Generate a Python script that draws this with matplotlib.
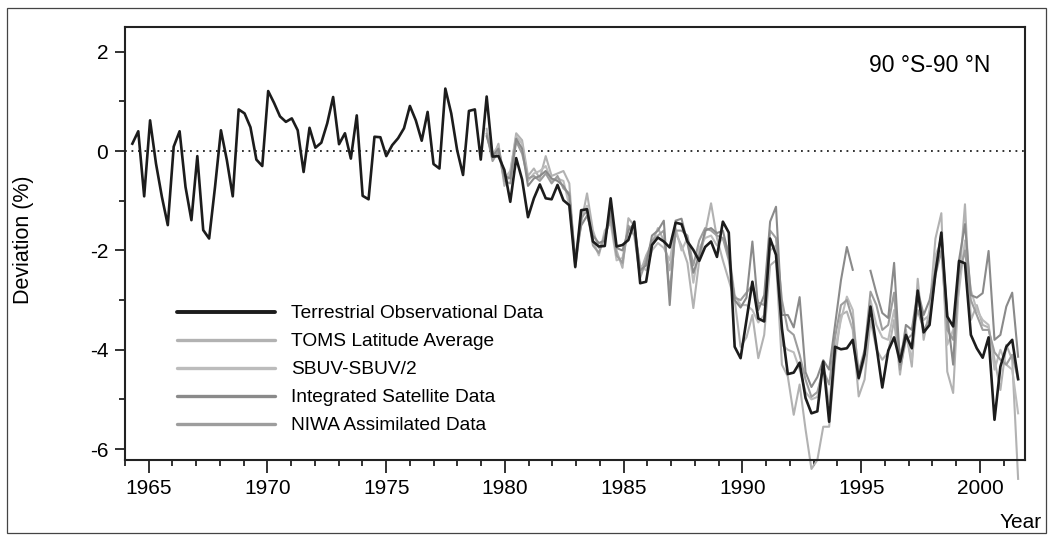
import numpy as np
import matplotlib.pyplot as plt
from matplotlib.lines import Line2D
from matplotlib.patches import Rectangle

plt.rcParams['font.family'] = ['Liberation Sans', 'DejaVu Sans']
plt.rcParams['axes.unicode_minus'] = False

# quarterly deviations (%)
terrestrial = [
    0.15, 0.40, -0.91, 0.62, -0.25, -0.92, -1.49, 0.09, 0.40, -0.72,
    -1.39, -0.10, -1.59, -1.76, -0.72, 0.42, -0.18, -0.91, 0.84, 0.76,
    0.48, -0.17, -0.30, 1.21, 0.97, 0.70, 0.59, 0.66, 0.42, -0.42,
    0.47, 0.07, 0.17, 0.56, 1.09, 0.14, 0.36, -0.15, 0.72, -0.90,
    -0.97, 0.29, 0.28, -0.10, 0.12, 0.26, 0.46, 0.91, 0.62, 0.21,
    0.79, -0.26, -0.35, 1.26, 0.76, 0.02, -0.48, 0.81, 0.84, -0.17,
    1.10, -0.11, -0.10, -0.38, -1.02, -0.14, -0.57, -1.33, -0.95, -0.67,
    -0.95, -0.97, -0.68, -0.99, -1.09, -2.33, -1.19, -1.17, -1.82, -1.92,
    -1.91, -0.95, -1.92, -1.89, -1.79, -1.42, -2.66, -2.63, -1.89, -1.74,
    -1.82, -1.94, -1.44, -1.47, -1.82, -1.99, -2.21, -1.93, -1.82, -2.13,
    -1.42, -1.64, -3.94, -4.17, -3.40, -2.63, -3.37, -3.43, -1.76, -2.09,
    -3.57, -4.49, -4.46, -4.26, -4.97, -5.28, -5.24, -4.24, -5.45, -3.94,
    -3.99, -3.97, -3.80, -4.57, -4.09, -3.13, -3.92, -4.76, -4.02, -3.75,
    -4.24, -3.70, -3.97, -2.81, -3.65, -3.50, -2.46, -1.64, -3.33, -3.53,
    -2.21, -2.26, -3.70, -3.97, -4.16, -3.75, -5.41, -4.34, -3.94, -3.80,
    -4.59,
]
# satellite / assimilated series start at the 61st quarter (1979)
toms = [
    0.45, -0.15, 0.15, -0.70, -0.45, 0.36, 0.22, -0.50, -0.35, -0.55,
    -0.10, -0.50, -0.45, -0.40, -0.65, -2.35, -1.45, -0.85, -1.60, -1.95,
    -1.75, -1.30, -2.00, -2.35, -1.35, -1.50, -2.45, -2.10, -1.85, -1.55,
    -1.80, -2.40, -1.65, -1.90, -2.25, -3.16, -2.20, -1.65, -1.05, -1.75,
    -2.20, -2.60, -3.00, -3.94, -3.75, -3.30, -4.17, -3.70, -2.30, -2.20,
    -4.30, -4.54, -5.31, -4.70, -5.60, -6.40, -6.22, -5.55, -5.55, -4.20,
    -3.30, -3.23, -3.60, -4.94, -4.60, -3.40, -3.99, -4.20, -4.05, -3.40,
    -4.50, -3.60, -4.34, -2.57, -3.80, -3.20, -1.76, -1.25, -4.44, -4.87,
    -2.60, -1.07, -3.40, -3.10, -3.50, -3.55, -4.20, -4.81, -3.90, -4.20,
    -6.60,
]
sbuv = [
    0.40, -0.05, 0.10, -0.55, -0.40, 0.30, 0.15, -0.60, -0.45, -0.40,
    -0.30, -0.60, -0.55, -0.60, -1.10, -2.20, -1.30, -1.10, -1.80, -2.10,
    -1.60, -1.45, -2.20, -2.15, -1.55, -1.60, -2.30, -2.40, -2.00, -1.85,
    -1.95, -2.20, -1.55, -2.00, -1.75, -2.65, -1.95, -1.75, -1.70, -1.90,
    -1.75, -2.00, -2.90, -3.10, -3.10, -3.20, -3.45, -3.30, -2.00, -1.90,
    -3.90, -4.00, -4.05, -4.40, -4.85, -5.00, -4.95, -4.30, -5.10, -4.00,
    -3.40, -2.93, -3.20, -4.60, -4.20, -3.00, -3.50, -3.75, -3.80, -3.20,
    -4.10, -3.70, -4.20, -3.00, -3.40, -3.30, -2.10, -1.80, -3.90, -3.60,
    -2.80, -1.80, -2.80, -3.20, -3.40, -3.50, -4.40, -4.00, -4.30, -4.40,
    -5.28,
]
integrated = [
    0.30, -0.10, 0.05, -0.50, -0.55, 0.25, 0.05, -0.70, -0.55, -0.50,
    -0.40, -0.55, -0.60, -0.70, -0.90, -2.15, -1.50, -1.30, -1.70, -1.85,
    -1.80, -1.20, -1.95, -2.00, -1.60, -1.45, -2.40, -2.30, -1.70, -1.60,
    -1.40, -3.10, -1.40, -1.36, -1.85, -2.45, -2.10, -1.60, -1.55, -1.65,
    -1.60, -2.10, -3.00, -3.15, -2.95, -1.82, -3.20, -2.90, -1.42, -1.12,
    -3.30, -3.30, -3.55, -2.94, -4.45, -4.75, -4.55, -4.21, -4.40, -3.50,
    -2.60, -1.93, -2.39, np.nan, np.nan, -2.41, -2.86, -3.26, -3.36, -2.25,
    -4.30, -3.50, -3.60, -2.80, -3.30, -3.00, -2.40, -1.65, -3.30, -4.30,
    -2.19, -1.47, -2.90, -2.95, -2.86, -2.01, -3.80, -3.70, -3.13, -2.85,
    -4.14,
]
niwa = [
    0.35, -0.20, 0.00, -0.60, -0.65, 0.20, -0.05, -0.55, -0.50, -0.60,
    -0.45, -0.65, -0.50, -0.75, -0.85, -2.30, -1.35, -1.20, -1.90, -2.05,
    -1.70, -1.35, -2.10, -2.25, -1.50, -1.70, -2.55, -2.20, -1.80, -1.70,
    -1.60, -2.85, -1.60, -1.60, -1.70, -2.30, -1.80, -1.55, -1.60, -1.70,
    -1.75, -2.20, -2.95, -3.00, -2.85, -2.70, -3.05, -3.10, -1.60, -1.75,
    -3.00, -3.60, -3.70, -4.10, -4.60, -4.95, -4.85, -4.40, -4.70, -3.75,
    -3.10, -3.00, -3.40, -4.44, -4.00, -2.83, -3.10, -3.60, -3.50, -2.85,
    -4.40, -3.80, -3.70, -3.20, -3.60, -3.40, -2.50, -2.00, -3.60, -3.80,
    -2.50, -2.00, -3.00, -3.30, -3.60, -3.60, -4.05, -4.20, -4.30, -4.10,
    -4.60,
]
labels = ['Terrestrial Observational Data', 'TOMS Latitude Average',
          'SBUV-SBUV/2', 'Integrated Satellite Data', 'NIWA Assimilated Data']
colors = ['#1c1c1c', '#b2b2b2', '#bcbcbc', '#8a8a8a', '#9d9d9d']

years = np.linspace(1964.31, 2001.61, len(terrestrial))
sat_years = years[len(terrestrial) - len(toms):]

fig = plt.figure(figsize=(10.53, 5.41), dpi=100)
W, H = 1053, 541
ax = fig.add_axes([125 / W, 1 - 460 / H, 900 / W, 433 / H])

# outer frame
fig.patches.append(Rectangle((7 / W, 8 / H), 1039 / W, 525 / H,
                             transform=fig.transFigure, fill=False,
                             lw=0.9, ec='#444444'))

for vals, c in zip([toms, sbuv, niwa, integrated], [colors[1], colors[2], colors[4], colors[3]]):
    ax.plot(sat_years, vals, color=c, lw=1.5, clip_on=False, zorder=2)
ax.plot(years, terrestrial, color=colors[0], lw=1.9, zorder=3)
ax.axhline(0, color='#222222', lw=1.3, ls=(0, (1, 2.6)), zorder=1)

ax.set_xlim(1964.03, 2001.9)
ax.set_ylim(-6.22, 2.5)
ax.set_xticks(range(1965, 2001, 5))
ax.set_xticks(range(1964, 2002), minor=True)
ax.set_yticks([-6, -4, -2, 0, 2])
ax.set_yticks([-5, -3, -1, 1], minor=True)
ax.tick_params(which='both', width=1.3, color='#222222', labelsize=15)
ax.tick_params(axis='y', which='major', length=7, pad=5)
ax.tick_params(axis='y', which='minor', length=4)
ax.tick_params(axis='x', which='major', length=9, pad=5)
ax.tick_params(axis='x', which='minor', length=4.5)
for s in ax.spines.values():
    s.set_linewidth(1.5)
    s.set_color('#222222')

fig.text(23 / W, 1 - 240 / H, 'Deviation (%)', rotation=90, fontsize=15.5,
         ha='center', va='center')
fig.text(1042 / W, 1 - 522 / H, 'Year', fontsize=15, ha='right', va='center')
fig.text(930 / W, 1 - 65 / H, '90 °S-90 °N', fontsize=16.5, ha='center', va='center')

handles = [Line2D([], [], color=c, lw=2.8 if i == 0 else 2.4, solid_capstyle='round')
           for i, c in enumerate(colors)]
ax.legend(handles, labels, loc='upper left', frameon=False, fontsize=13.8,
          bbox_to_anchor=((177 - 125) / 900, (460 - 305) / 433),
          borderpad=0, borderaxespad=0, handlelength=5.1, handletextpad=0.85,
          labelspacing=0.55)

fig.savefig('out.png', dpi=100)
